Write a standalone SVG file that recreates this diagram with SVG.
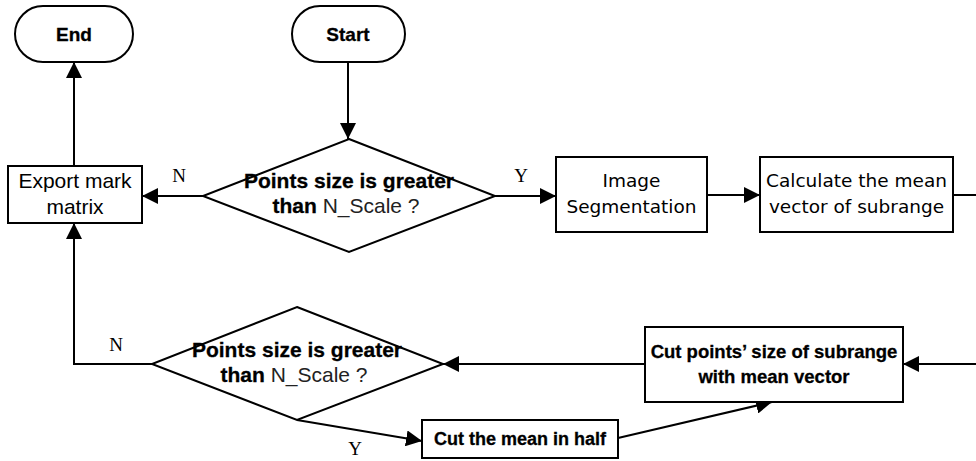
<svg xmlns="http://www.w3.org/2000/svg" width="976" height="461" viewBox="0 0 976 461">
<style>
.s{fill:#fff;stroke:#000;stroke-width:2}
.c{fill:none;stroke:#000;stroke-width:2}
.a{font-family:"Liberation Sans",Arial,sans-serif;fill:#000;text-anchor:middle}
.b{font-weight:bold;stroke:#000;stroke-width:0.3}
.t{font-family:"DejaVu Sans",Tahoma,sans-serif;fill:#000;text-anchor:middle;font-size:18.5px}
.l{font-family:"Liberation Serif","DejaVu Serif",serif;font-size:19px;fill:#000;text-anchor:middle}
.g{font-weight:normal;fill:#222;stroke:none}
</style>
<defs>
<marker id="ar" markerUnits="userSpaceOnUse" markerWidth="16" markerHeight="16" refX="16" refY="8" orient="auto">
<path d="M0,0 L16,8 L0,16 z" fill="#000"/>
</marker>
</defs>
<g id="connectors">
<line class="c" x1="348" y1="62" x2="348" y2="139" marker-end="url(#ar)"/>
<line class="c" x1="203" y1="196" x2="142" y2="196" marker-end="url(#ar)"/>
<line class="c" x1="74" y1="166" x2="74" y2="62" marker-end="url(#ar)"/>
<line class="c" x1="495" y1="196" x2="556" y2="196" marker-end="url(#ar)"/>
<line class="c" x1="707" y1="195" x2="760" y2="195" marker-end="url(#ar)"/>
<line class="c" x1="953" y1="195" x2="976" y2="195"/>
<line class="c" x1="976" y1="364" x2="903" y2="364" marker-end="url(#ar)"/>
<line class="c" x1="645" y1="364" x2="443" y2="364" marker-end="url(#ar)"/>
<polyline class="c" points="152,364 74,364 74,223" marker-end="url(#ar)"/>
<line class="c" x1="297" y1="420" x2="422" y2="441" marker-end="url(#ar)"/>
<line class="c" x1="618" y1="438" x2="772" y2="402" marker-end="url(#ar)"/>
<text class="l" x="179" y="182">N</text>
<text class="l" x="521" y="182">Y</text>
<text class="l" x="116" y="351">N</text>
<text class="l" x="355" y="455">Y</text>
</g>
<g id="end">
<rect class="s" x="15" y="6" width="118" height="56" rx="28"/>
<text class="a b" x="74" y="41" font-size="19">End</text>
</g>
<g id="start">
<rect class="s" x="292" y="6" width="113" height="56" rx="28"/>
<text class="a b" x="348" y="41" font-size="19">Start</text>
</g>
<g id="decision1">
<polygon class="s" points="349,139 495,196 349,252 203,196"/>
<text class="a b" x="349" y="188" font-size="21">Points size is greater</text>
<text class="a b" x="346" y="213" font-size="21">than <tspan class="g">N_Scale ?</tspan></text>
</g>
<g id="export">
<rect class="s" x="8" y="166" width="134" height="57"/>
<text class="a" x="75" y="188" font-size="21">Export mark</text>
<text class="a" x="75" y="214" font-size="21">matrix</text>
</g>
<g id="segmentation">
<rect class="s" x="556" y="157" width="151" height="75"/>
<text class="t" x="631.5" y="187">Image</text>
<text class="t" x="631.5" y="213">Segmentation</text>
</g>
<g id="calculate">
<rect class="s" x="760" y="157" width="193" height="75"/>
<text class="t" x="856.5" y="187">Calculate the mean</text>
<text class="t" x="856.5" y="213">vector of subrange</text>
</g>
<g id="cutpoints">
<rect class="s" x="645" y="327" width="258" height="75"/>
<text class="a b" x="774" y="358" font-size="18.5">Cut points’ size of subrange</text>
<text class="a b" x="774" y="383" font-size="18.5">with mean vector</text>
</g>
<g id="decision2">
<polygon class="s" points="297,307 443,364 297,420 152,364"/>
<text class="a b" x="297" y="357" font-size="21">Points size is greater</text>
<text class="a b" x="294" y="382" font-size="21">than <tspan class="g">N_Scale ?</tspan></text>
</g>
<g id="cuthalf">
<rect class="s" x="422" y="420" width="196" height="38"/>
<text class="a b" x="520" y="445" font-size="18">Cut the mean in half</text>
</g>
</svg>
